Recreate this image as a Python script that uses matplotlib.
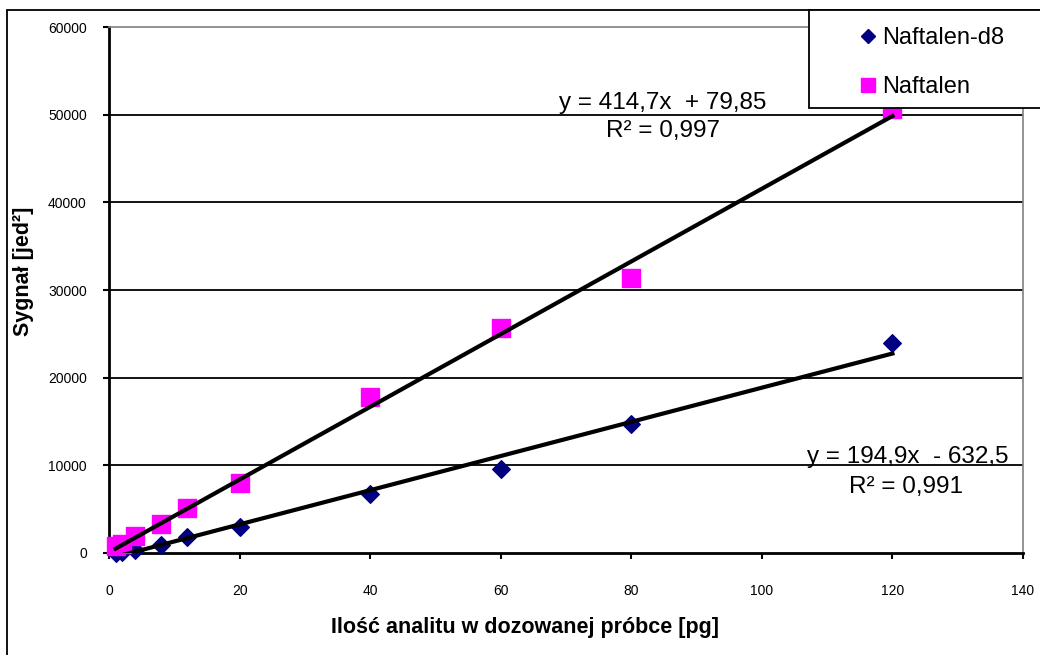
import matplotlib
matplotlib.use('Agg')
import matplotlib.pyplot as plt
from matplotlib.patches import Rectangle
from matplotlib.lines import Line2D

plt.rcParams['font.family'] = ['Liberation Sans', 'DejaVu Sans']

# amounts [pg] and signals
amount = [1, 2, 4, 8, 12, 20, 40, 60, 80, 120]
signal_d8 = [30, 60, 340, 910, 1860, 3000, 6730, 9600, 14700, 24000]
signal_naft = [840, 1000, 1980, 3300, 5170, 8020, 17830, 25700, 31400, 50700]

# trendline coefficients as printed on the chart
slope_naft, icpt_naft = 414.7, 79.85
slope_d8, icpt_d8 = 194.9, -632.5

W, H = 1040, 655
fig = plt.figure(figsize=(10.4, 6.55), dpi=100)
ax = fig.add_axes([109 / W, 1 - 553 / H, (1023 - 109) / W, (553 - 27) / H])

# outer chart-area border
fig.patches.append(Rectangle((7 / W, -0.05), 1.2, 1 - 10 / H + 0.05,
                             transform=fig.transFigure, fill=False,
                             edgecolor='black', linewidth=1.3))

ax.scatter(amount, signal_d8, marker='D', s=80, color='#000080', zorder=3, clip_on=False)
ax.scatter(amount, signal_naft, marker='s', s=150, color='#FF00FF', zorder=3, clip_on=False)

xs = [amount[0], amount[-1]]
ax.plot(xs, [slope_naft * x + icpt_naft for x in xs], color='black', lw=3, zorder=4)
ax.plot(xs, [slope_d8 * x + icpt_d8 for x in xs], color='black', lw=3, zorder=4)

ax.set_xlim(0, 140)
ax.set_ylim(0, 60000)
ax.set_xticks(range(0, 141, 20))
ax.set_yticks(range(0, 60001, 10000))
for yv in range(10000, 60000, 10000):
    ax.axhline(yv, color='black', lw=1.3, zorder=1)

for s in ['top', 'right']:
    ax.spines[s].set_color('#808080')
    ax.spines[s].set_linewidth(1.2)
for s in ['left', 'bottom']:
    ax.spines[s].set_linewidth(2)
ax.tick_params(axis='both', direction='out', length=4, width=1.5, labelsize=10)
ax.tick_params(axis='y', pad=12)
ax.tick_params(axis='x', pad=18)

fig.text(525 / W, 1 - 628 / H, 'Ilość analitu w dozowanej próbce [pg]',
         ha='center', va='center', fontsize=15.5, fontweight='bold')
fig.text(24 / W, 1 - 271 / H, 'Sygnał [jed²]', rotation=90,
         ha='center', va='center', fontsize=15.5, fontweight='bold')

def fig_text(px, py, txt):
    fig.text(px / W, 1 - py / H, txt, ha='center', va='center', fontsize=17.5)

fig_text(663, 103, 'y = 414,7x  + 79,85')
fig_text(663, 131, 'R² = 0,997')
fig_text(908, 457, 'y = 194,9x  - 632,5')
fig_text(906, 487, 'R² = 0,991')

# legend box
fig.patches.append(Rectangle((809 / W, 1 - 108 / H), 0.3, 98 / H,
                             transform=fig.transFigure, facecolor='white',
                             edgecolor='black', linewidth=1.3, zorder=5))
handles = [Line2D([], [], ls='none', marker='D', ms=7, color='#000080'),
           Line2D([], [], ls='none', marker='s', ms=10, color='#FF00FF')]
leg = fig.legend(handles, ['Naftalen-d8', 'Naftalen'], loc='upper left',
                 bbox_to_anchor=(849 / W, 1 - 15 / H), frameon=False, fontsize=17,
                 handlelength=0.6, handletextpad=0.3, labelspacing=1.15, borderpad=0)
leg.set_zorder(6)

fig.savefig('out.png', dpi=100)
